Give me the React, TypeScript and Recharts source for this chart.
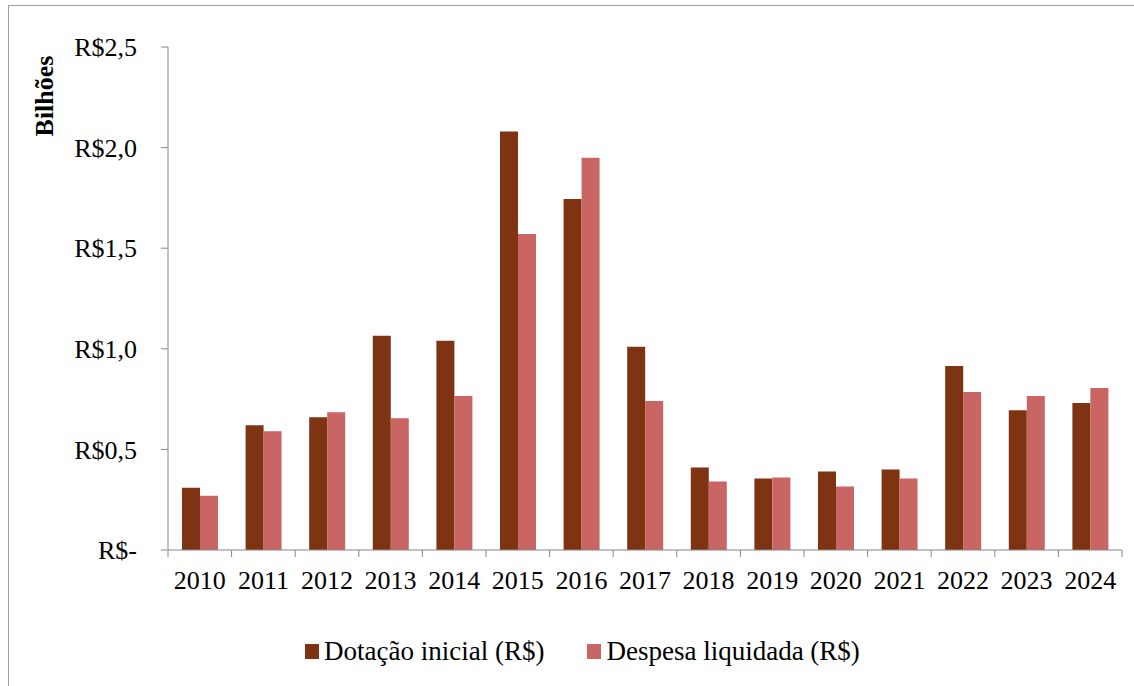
import { BarChart, Bar, XAxis, YAxis } from 'recharts';

const years = ['2010', '2011', '2012', '2013', '2014', '2015', '2016', '2017', '2018', '2019', '2020', '2021', '2022', '2023', '2024'];
const dotacaoInicial = [0.31, 0.62, 0.66, 1.065, 1.04, 2.08, 1.745, 1.01, 0.41, 0.355, 0.39, 0.4, 0.915, 0.695, 0.73];
const despesaLiquidada = [0.27, 0.59, 0.685, 0.655, 0.765, 1.57, 1.95, 0.74, 0.34, 0.36, 0.315, 0.355, 0.785, 0.765, 0.805];
const yTicks = [0, 0.5, 1, 1.5, 2, 2.5];

const data = years.map((year, i) => ({
  year,
  dotacao: dotacaoInicial[i],
  despesa: despesaLiquidada[i],
}));

const DARK = '#7e3413';
const LIGHT = '#c96563';
const AXIS = '#868686';
const FONT = 'Liberation Serif, Times New Roman, serif';

const W = 1134;
const H = 686;
const Y_AXIS_W = 168;
const RIGHT = 12;
const BAND = (W - Y_AXIS_W - RIGHT) / years.length;

const formatMoney = (v: number) => (v === 0 ? 'R$-' : `R$${v.toFixed(1).replace('.', ',')}`);

// x ticks sit between categories, like the Excel original
const YearTick = (props: any) => {
  const { x, y, payload, index, visibleTicksCount } = props;
  const left = x - BAND / 2;
  const right = x + BAND / 2;
  return (
    <g>
      <line x1={left} y1={y} x2={left} y2={y + 7} stroke={AXIS} />
      {index === visibleTicksCount - 1 && <line x1={right} y1={y} x2={right} y2={y + 7} stroke={AXIS} />}
      <text x={x} y={y + 39} textAnchor="middle" fontSize={26} fontFamily={FONT} fill="#000">
        {payload.value}
      </text>
    </g>
  );
};

const legendItems = [
  { label: 'Dotação inicial (R$)', color: DARK },
  { label: 'Despesa liquidada (R$)', color: LIGHT },
];

export default function App() {
  return (
    <div style={{ position: 'absolute', left: 0, top: 0, width: W, height: H, background: '#fff' }}>
      <div
        style={{
          position: 'absolute',
          left: 8,
          top: 5,
          width: W - 9,
          height: H,
          borderTop: '1.5px solid #a0a0a0',
          borderLeft: '1.5px solid #a0a0a0',
        }}
      />
      <BarChart
        width={W}
        height={H}
        data={data}
        margin={{ top: 47, right: RIGHT, bottom: 96, left: 0 }}
        barCategoryGap="22%"
        barGap={0}
      >
        <XAxis
          dataKey="year"
          height={40}
          axisLine={{ stroke: AXIS }}
          tickLine={false}
          tickSize={0}
          tickMargin={0}
          interval={0}
          tick={<YearTick />}
        />
        <YAxis
          width={Y_AXIS_W}
          domain={[0, 2.5]}
          ticks={yTicks}
          tickFormatter={formatMoney}
          axisLine={{ stroke: AXIS }}
          tickLine={{ stroke: AXIS }}
          tickSize={7}
          tickMargin={24}
          tick={{ fill: '#000', fontSize: 26, fontFamily: FONT }}
          label={{
            content: () => (
              <text
                x={0}
                y={0}
                transform="translate(53, 96) rotate(-90)"
                textAnchor="middle"
                fontSize={26}
                fontWeight="bold"
                fontFamily={FONT}
                fill="#000"
              >
                Bilhões
              </text>
            ),
          }}
        />
        <Bar dataKey="dotacao" fill={DARK} isAnimationActive={false} />
        <Bar dataKey="despesa" fill={LIGHT} isAnimationActive={false} />
      </BarChart>
      <div
        style={{
          position: 'absolute',
          left: 305,
          top: 636,
          display: 'flex',
          alignItems: 'center',
          fontFamily: FONT,
          fontSize: 27,
          color: '#000',
          whiteSpace: 'nowrap',
        }}
      >
        {legendItems.map((item, i) => (
          <div key={item.label} style={{ display: 'flex', alignItems: 'center', marginRight: i === 0 ? 43 : 0 }}>
            <span style={{ display: 'inline-block', width: 14, height: 15, background: item.color, marginRight: 5 }} />
            <span>{item.label}</span>
          </div>
        ))}
      </div>
    </div>
  );
}
